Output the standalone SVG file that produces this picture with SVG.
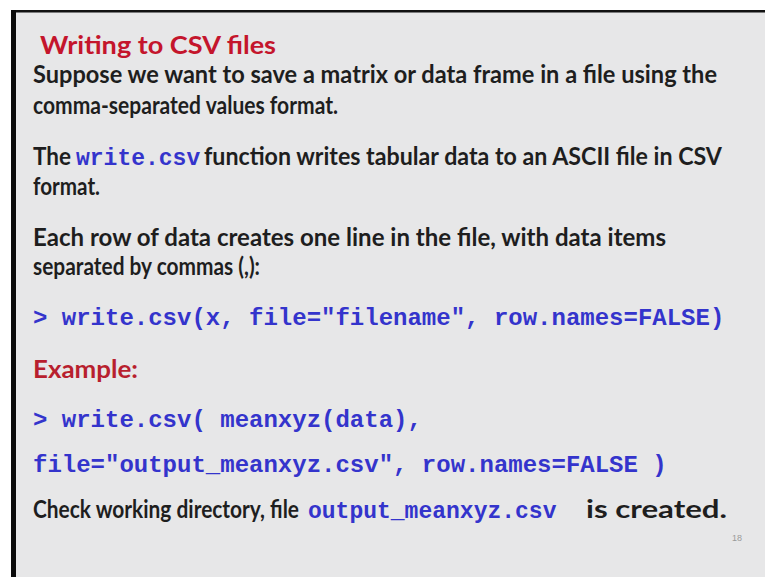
<svg xmlns="http://www.w3.org/2000/svg" width="765" height="577" viewBox="0 0 765 577">
  <style>
    .body { font-family: Lato, "Open Sans", "Liberation Sans", sans-serif; font-weight: bold; font-size: 24px; fill: #1e1e1e; }
    .title { font-family: Lato, "Open Sans", "Liberation Sans", sans-serif; font-weight: bold; font-size: 25px; fill: #c4152c; }
    .label { font-family: Lato, "Open Sans", "Liberation Sans", sans-serif; font-weight: bold; font-size: 24px; fill: #b81f2e; }
    .code { font-family: "Liberation Mono", "Courier New", monospace; font-weight: bold; font-size: 24px; fill: #3434cc; }
    .icode { font-family: "Liberation Mono", "Courier New", monospace; font-weight: bold; font-size: 23px; fill: #3434cc; }
    .pnum { font-family: "Liberation Sans", sans-serif; font-size: 9px; fill: #9a9a9a; }
  </style>

  <!-- page and slide frame -->
  <rect x="0" y="0" width="765" height="577" fill="#ffffff"/>
  <rect x="11" y="10" width="754" height="567" fill="#e7e7e8"/>
  <rect x="11" y="10" width="754" height="2.5" fill="#111111"/>
  <rect x="11" y="10" width="5" height="567" fill="#0a0a0a"/>

  <g id="title">
    <text class="title" x="40" y="54" textLength="236" lengthAdjust="spacingAndGlyphs">Writing to CSV files</text>
  </g>

  <g id="intro">
    <text class="body" x="33" y="83" textLength="684" lengthAdjust="spacingAndGlyphs">Suppose we want to save a matrix or data frame in a file using the</text>
    <text class="body" x="33" y="114" textLength="305" lengthAdjust="spacingAndGlyphs">comma-separated values format.</text>
  </g>

  <g id="function-note">
    <text class="body" x="33" y="165" textLength="38" lengthAdjust="spacingAndGlyphs">The</text>
    <text class="icode" x="76" y="165">write.csv</text>
    <text class="body" x="204" y="165" textLength="518" lengthAdjust="spacingAndGlyphs">function writes tabular data to an ASCII file in CSV</text>
    <text class="body" x="33" y="195" textLength="67" lengthAdjust="spacingAndGlyphs">format.</text>
  </g>

  <g id="rows-note">
    <text class="body" x="33" y="246" textLength="633" lengthAdjust="spacingAndGlyphs">Each row of data creates one line in the file, with data items</text>
    <text class="body" x="33" y="275" textLength="227" lengthAdjust="spacingAndGlyphs">separated by commas (,):</text>
  </g>

  <g id="usage">
    <text class="code" x="33" y="325">&gt; write.csv(x, file="filename", row.names=FALSE)</text>
  </g>

  <g id="example">
    <text class="label" x="33" y="378" textLength="105" lengthAdjust="spacingAndGlyphs">Example:</text>
    <text class="code" x="33" y="427">&gt; write.csv( meanxyz(data),</text>
    <text class="code" x="33" y="472">file="output_meanxyz.csv", row.names=FALSE )</text>
  </g>

  <g id="check-note">
    <text class="body" x="33" y="518" textLength="266" lengthAdjust="spacingAndGlyphs">Check working directory, file</text>
    <text class="icode" x="308" y="518">output_meanxyz.csv</text>
    <text class="body" x="586" y="518" textLength="141" lengthAdjust="spacingAndGlyphs">is created.</text>
  </g>

  <text class="pnum" x="732" y="541">18</text>
</svg>
